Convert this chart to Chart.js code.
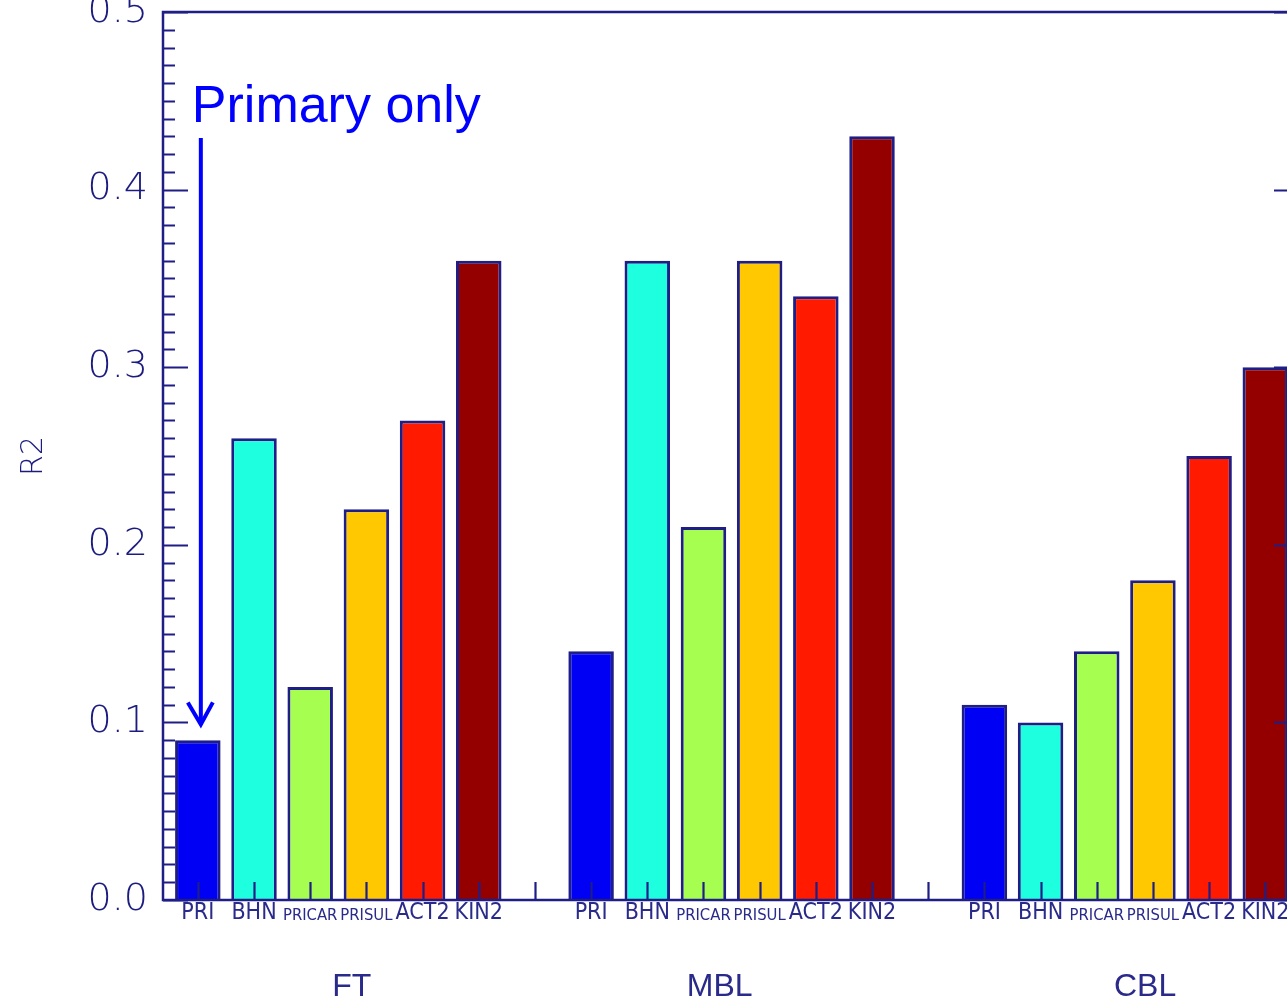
<!DOCTYPE html>
<html>
<head>
<meta charset="utf-8">
<script src="https://cdn.jsdelivr.net/npm/chart.js@4/dist/chart.umd.min.js"></script>
<style>
  html, body { margin: 0; padding: 0; background: #ffffff; overflow: hidden; }
  #wrap { width: 1310px; height: 1001px; }
</style>
</head>
<body>
<div id="wrap"><canvas id="c" width="1310" height="1001"></canvas></div>
<script>
// ---- data ----
const groups = ['FT', 'MBL', 'CBL'];
const seriesLabels = ['PRI', 'BHN', 'PRICAR', 'PRISUL', 'ACT2', 'KIN2'];
const ftValues  = [0.09, 0.26, 0.12, 0.22, 0.27, 0.36];
const mblValues = [0.14, 0.36, 0.21, 0.36, 0.34, 0.43];
const cblValues = [0.11, 0.10, 0.14, 0.18, 0.25, 0.30];
const yTickValues = [0.0, 0.1, 0.2, 0.3, 0.4, 0.5];
const annotationText = 'Primary only';
const annotationValue = 0.1;

// ---- styles ----
const barColors = ['#0000f5', '#1effe0', '#a6ff50', '#ffc800', '#ff1a00', '#940000'];
const navy = '#1e1e86';
const textNavy = '#2a2a8a';
const smallLabels = ['PRICAR', 'PRISUL'];
const labelFamily = '"DejaVu Sans Condensed", "Liberation Sans Narrow", "Liberation Sans", sans-serif';

const groupValues = [ftValues, mblValues, cblValues];
const slotsPerGroup = seriesLabels.length + 1;

const tickSlots = [];
groups.forEach((g, gi) => {
  for (let s = 0; s <= seriesLabels.length; s++) tickSlots.push(gi * slotsPerGroup + s);
});
function slotLabel(v) {
  const s = Math.round(v) % slotsPerGroup;
  return s < seriesLabels.length ? seriesLabels[s] : '';
}

const datasets = seriesLabels.map((name, si) => ({
  label: name,
  data: groups.map((g, gi) => ({ x: gi * slotsPerGroup + si, y: groupValues[gi][si] })),
  backgroundColor: barColors[si],
  borderColor: navy,
  borderWidth: 3,
  borderSkipped: 'bottom',
  grouped: false,
  barPercentage: 0.81,
  categoryPercentage: 1.0
}));

const framePlugin = {
  id: 'frame',
  afterDatasetsDraw(chart) {
    const { ctx, chartArea: a, scales: { x, y } } = chart;
    ctx.save();
    ctx.strokeStyle = navy;
    ctx.lineWidth = 2.5;
    ctx.strokeRect(a.left, a.top, a.right - a.left, a.bottom - a.top);
    ctx.lineWidth = 2.2;
    for (let i = 0; i <= 50; i++) {
      const v = i / 100;
      const py = Math.round(y.getPixelForValue(v)) + 0.5;
      const len = (i % 10 === 0) ? 25 : 12;
      ctx.beginPath();
      ctx.moveTo(a.left, py); ctx.lineTo(a.left + len, py);
      ctx.moveTo(a.right, py); ctx.lineTo(a.right - len, py);
      ctx.stroke();
    }
    tickSlots.forEach(v => {
      const px = Math.round(x.getPixelForValue(v)) + 0.5;
      ctx.beginPath();
      ctx.moveTo(px, a.bottom); ctx.lineTo(px, a.bottom - 18);
      ctx.stroke();
    });
    ctx.fillStyle = textNavy;
    ctx.font = '32px "Liberation Sans", Arial, sans-serif';
    ctx.textAlign = 'center';
    ctx.textBaseline = 'alphabetic';
    const groupCenters = [2.74, 9.29, 16.86];
    groups.forEach((g, gi) => {
      ctx.fillText(g, x.getPixelForValue(groupCenters[gi]), 996);
    });
    const ax = x.getPixelForValue(0) + 3;
    const tipY = y.getPixelForValue(annotationValue) + 2;
    ctx.fillStyle = '#0000ff';
    ctx.font = '52px "Liberation Sans", Arial, sans-serif';
    ctx.textAlign = 'left';
    ctx.fillText(annotationText, ax - 9, 122);
    ctx.strokeStyle = '#0000ff';
    ctx.lineWidth = 4;
    ctx.beginPath();
    ctx.moveTo(ax, 138); ctx.lineTo(ax, tipY - 2);
    ctx.stroke();
    ctx.beginPath();
    ctx.moveTo(ax - 13, tipY - 22); ctx.lineTo(ax, tipY); ctx.lineTo(ax + 12, tipY - 22);
    ctx.stroke();
    ctx.restore();
  }
};

new Chart(document.getElementById('c'), {
  type: 'bar',
  data: { datasets },
  options: {
    responsive: false,
    animation: false,
    devicePixelRatio: 1,
    layout: { padding: { top: 12, right: 11, left: 0, bottom: 0 } },
    plugins: { legend: { display: false }, tooltip: { enabled: false } },
    scales: {
      x: {
        type: 'linear',
        offset: false,
        bounds: 'data',
        min: -0.62,
        max: 19.6,
        grid: { display: false, drawTicks: false },
        border: { display: false },
        afterBuildTicks(scale) { scale.ticks = tickSlots.map(v => ({ value: v })); },
        afterFit(scale) { scale.height = 101; scale.paddingLeft = 0; scale.paddingRight = 0; },
        ticks: {
          autoSkip: false,
          maxRotation: 0,
          minRotation: 0,
          padding: 0,
          color: textNavy,
          callback: (v) => slotLabel(v),
          font: (ctx) => {
            const lbl = ctx.tick ? slotLabel(ctx.tick.value) : '';
            return smallLabels.includes(lbl)
              ? { family: labelFamily, size: 16.5, lineHeight: '31px' }
              : { family: labelFamily, size: 23, lineHeight: '26px' };
          }
        }
      },
      y: {
        min: 0,
        max: 0.5,
        grid: { display: false, drawTicks: false },
        border: { display: false },
        afterBuildTicks(scale) { scale.ticks = yTickValues.map(v => ({ value: v })); },
        afterFit(scale) { scale.width = 163; scale.paddingTop = 0; scale.paddingBottom = 0; },
        ticks: {
          padding: 15,
          color: '#1c1c80',
          font: { family: '"DejaVu Sans", sans-serif', size: 38, weight: 200, lineHeight: '24px' },
          callback: (v) => Number(v).toFixed(1)
        },
        title: {
          display: true,
          text: 'R2',
          color: '#1c1c80',
          font: { family: '"DejaVu Sans", sans-serif', size: 30, weight: 200, lineHeight: 1.2 },
          padding: { top: 16, bottom: 0 }
        }
      }
    }
  },
  plugins: [framePlugin]
});
</script>
</body>
</html>
